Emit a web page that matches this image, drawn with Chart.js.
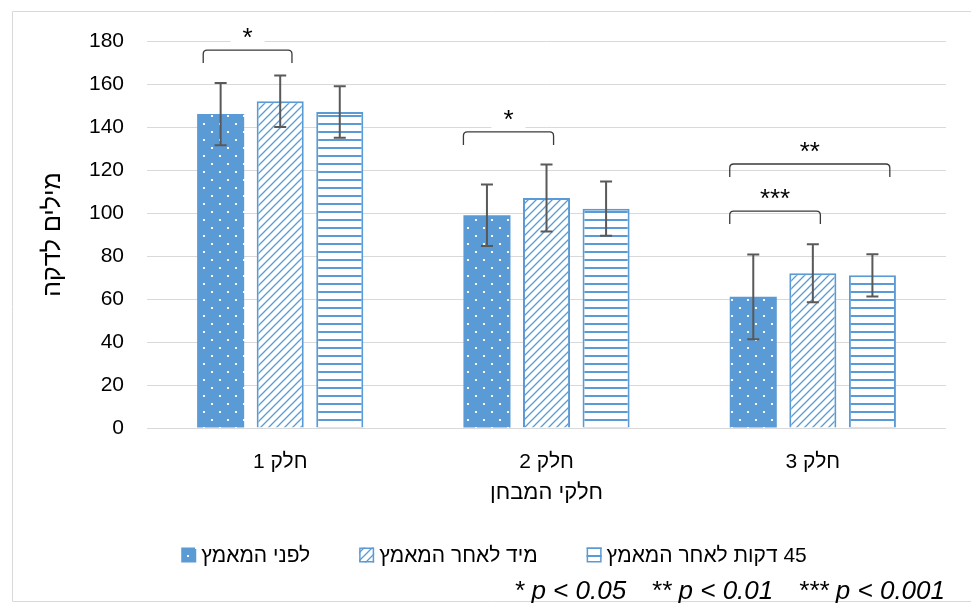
<!DOCTYPE html>
<html>
<head>
<meta charset="utf-8">
<script src="https://cdn.jsdelivr.net/npm/chart.js@4.4.1/dist/chart.umd.min.js"></script>
<style>
  html, body { margin: 0; padding: 0; background: #ffffff; }
  #wrap { position: relative; width: 971px; height: 603px; }
  canvas { display: block; direction: rtl; }
</style>
</head>
<body>
<div id="wrap"><canvas id="chart" width="971" height="603"></canvas></div>
<script>
// ---------------- data ----------------
const categories = ['חלק 1', 'חלק 2', 'חלק 3'];
const seriesNames = ['לפני המאמץ', 'מיד לאחר המאמץ', '45 דקות לאחר המאמץ'];
const beforeValues    = [146, 99, 61];
const immediateValues = [152, 107, 72];
const after45Values   = [147, 102, 71];
const beforeErrors    = [14.5, 14.3, 19.7];
const immediateErrors = [12.0, 15.6, 13.5];
const after45Errors   = [12.0, 12.6, 9.8];
const yTickValues = [0, 20, 40, 60, 80, 100, 120, 140, 160, 180];
const yAxisTitle = 'מילים לדקה';
const xAxisTitle = 'חלקי המבחן';
// significance brackets: category, first bar, second bar, height (axis units), label
const sigCategory = [0, 1, 2, 2];
const sigFrom     = [0, 0, 0, 0];
const sigTo       = [1, 1, 2, 1];
const sigValue    = [175.8, 137.7, 122.8, 100.9];
const sigLabel    = ['*', '*', '**', '***'];
const noteParts = ['* p < 0.05', '** p < 0.01', '*** p < 0.001'];

// ---------------- styles ----------------
const FONT = '"Liberation Sans", Arial, sans-serif';
const BLUE = '#5B9BD5';
const GRID = '#d9d9d9';
// bracket end insets relative to bar width (left end, right end)
const sigLeftInset  = [-0.37, -0.5, -0.5, -0.5];
const sigRightInset = [0.25, 0.15, 0.37, 0.16];

const canvas = document.getElementById('chart');
const mainCtx = canvas.getContext('2d');

function makePattern(kind) {
  const c = document.createElement('canvas');
  const g = c.getContext('2d');
  if (kind === 'dots') {
    c.width = 16; c.height = 16;
    g.fillStyle = BLUE; g.fillRect(0, 0, 16, 16);
    g.fillStyle = '#ffffff';
    g.fillRect(3, 3, 2, 2);
    g.fillRect(11, 11, 2, 2);
  } else if (kind === 'diag') {
    c.width = 8; c.height = 8;
    g.fillStyle = '#ffffff'; g.fillRect(0, 0, 8, 8);
    g.strokeStyle = BLUE; g.lineWidth = 1.3;
    g.beginPath();
    g.moveTo(-2, 10); g.lineTo(10, -2);
    g.moveTo(-2, 2); g.lineTo(2, -2);
    g.moveTo(6, 10); g.lineTo(10, 6);
    g.stroke();
  } else {
    c.width = 8; c.height = 8;
    g.fillStyle = '#ffffff'; g.fillRect(0, 0, 8, 8);
    g.fillStyle = BLUE; g.fillRect(0, 3, 8, 2);
  }
  return mainCtx.createPattern(c, 'repeat');
}
const fills = [makePattern('dots'), makePattern('diag'), makePattern('hlines')];
const errorArrays = [beforeErrors, immediateErrors, after45Errors];

// error bars
const errorBarPlugin = {
  id: 'errorBars',
  afterDatasetsDraw(chart) {
    const ctx = chart.ctx;
    const y = chart.scales.y;
    ctx.save();
    ctx.strokeStyle = '#595959';
    ctx.lineWidth = 2;
    chart.data.datasets.forEach((ds, di) => {
      const meta = chart.getDatasetMeta(di);
      meta.data.forEach((bar, i) => {
        const v = ds.data[i], e = errorArrays[di][i];
        const x = bar.x;
        const yt = y.getPixelForValue(v + e), yb = y.getPixelForValue(v - e);
        ctx.beginPath();
        ctx.moveTo(x, yt); ctx.lineTo(x, yb);
        ctx.moveTo(x - 6, yt); ctx.lineTo(x + 6, yt);
        ctx.moveTo(x - 6, yb); ctx.lineTo(x + 6, yb);
        ctx.stroke();
      });
    });
    ctx.restore();
  }
};

// significance brackets
const bracketPlugin = {
  id: 'brackets',
  afterDatasetsDraw(chart) {
    const ctx = chart.ctx;
    const y = chart.scales.y;
    ctx.save();
    sigLabel.forEach((lab, k) => {
      const b1 = chart.getDatasetMeta(sigFrom[k]).data[sigCategory[k]];
      const b2 = chart.getDatasetMeta(sigTo[k]).data[sigCategory[k]];
      const x1 = b1.x + sigLeftInset[k] * b1.width;
      const x2 = b2.x + sigRightInset[k] * b2.width;
      const yt = y.getPixelForValue(sigValue[k]);
      const drop = 13, r = 4;
      ctx.font = '26px ' + FONT;
      ctx.direction = 'ltr';
      const w = ctx.measureText(lab).width;
      const cx = (x1 + x2) / 2;
      ctx.fillStyle = '#ffffff';
      ctx.fillRect(cx - w / 2 - 12, yt - 36, w + 24, 33);
      ctx.fillStyle = '#000000';
      ctx.textAlign = 'center';
      ctx.textBaseline = 'alphabetic';
      ctx.fillText(lab, cx, yt - 4);
      ctx.strokeStyle = '#3a3a3a';
      ctx.lineWidth = 1.3;
      ctx.beginPath();
      ctx.moveTo(x1, yt + drop);
      ctx.lineTo(x1, yt + r);
      ctx.quadraticCurveTo(x1, yt, x1 + r, yt);
      ctx.lineTo(x2 - r, yt);
      ctx.quadraticCurveTo(x2, yt, x2, yt + r);
      ctx.lineTo(x2, yt + drop);
      ctx.stroke();
    });
    ctx.restore();
  }
};

// legend, note and frame
const extrasPlugin = {
  id: 'extras',
  beforeDraw(chart) {
    const ctx = chart.ctx;
    ctx.save();
    ctx.fillStyle = '#ffffff';
    ctx.fillRect(0, 0, chart.width, chart.height);
    ctx.restore();
  },
  afterDraw(chart) {
    const ctx = chart.ctx;
    ctx.save();
    // frame
    ctx.strokeStyle = GRID; ctx.lineWidth = 1;
    ctx.beginPath();
    ctx.moveTo(chart.width + 5, 11.5); ctx.lineTo(12.5, 11.5); ctx.lineTo(12.5, 601.5); ctx.lineTo(chart.width + 5, 601.5);
    ctx.stroke();
    // legend
    const box = 15, gapBoxText = 5, gapItems = 49, centerX = 494, cy = 555;
    ctx.font = '21px ' + FONT;
    ctx.direction = 'rtl';
    const widths = seriesNames.map(s => ctx.measureText(s).width);
    const total = widths.reduce((a, b) => a + b, 0) + seriesNames.length * (box + gapBoxText) + (seriesNames.length - 1) * gapItems;
    let x = centerX - total / 2;
    seriesNames.forEach((s, i) => {
      ctx.fillStyle = fills[i];
      ctx.fillRect(x, cy - box / 2, box, box);
      if (i > 0) {
        ctx.strokeStyle = BLUE; ctx.lineWidth = 1.5;
        ctx.strokeRect(x + 0.75, cy - box / 2 + 0.75, box - 1.5, box - 1.5);
      }
      x += box + gapBoxText;
      ctx.fillStyle = '#000000';
      ctx.textAlign = 'left';
      ctx.textBaseline = 'middle';
      ctx.fillText(s, x, cy + 1);
      x += widths[i] + gapItems;
    });
    // significance note, right aligned
    ctx.direction = 'ltr';
    ctx.font = 'italic 26px ' + FONT;
    ctx.textAlign = 'right';
    ctx.textBaseline = 'alphabetic';
    ctx.fillStyle = '#000000';
    let xr = 945;
    for (let i = noteParts.length - 1; i >= 0; i--) {
      ctx.fillText(noteParts[i], xr, 599);
      xr -= ctx.measureText(noteParts[i]).width + 25;
    }
    ctx.restore();
  }
};

new Chart(mainCtx, {
  type: 'bar',
  data: {
    labels: categories,
    datasets: [beforeValues, immediateValues, after45Values].map((vals, i) => ({
      label: seriesNames[i],
      data: vals,
      backgroundColor: fills[i],
      borderColor: BLUE,
      borderWidth: i === 0 ? 0 : 2,
      categoryPercentage: 0.671,
      barPercentage: 0.79
    }))
  },
  options: {
    responsive: false,
    animation: false,
    events: [],
    layout: { padding: { left: 0, right: 25, top: 41, bottom: 96.8 } },
    plugins: {
      legend: { display: false },
      tooltip: { enabled: false },
      title: { display: false }
    },
    scales: {
      x: {
        grid: { display: false, drawTicks: false },
        border: { display: false },
        ticks: { color: '#000000', font: { family: FONT, size: 21 }, padding: 21.4 },
        title: { display: true, text: xAxisTitle, color: '#000000', font: { family: FONT, size: 22 }, padding: { top: -16.2, bottom: 0 } }
      },
      y: {
        min: 0, max: 180,
        afterBuildTicks(scale) { scale.ticks = yTickValues.map(v => ({ value: v })); },
        grid: { color: GRID, lineWidth: 1, drawTicks: false },
        border: { display: false },
        ticks: { color: '#000000', font: { family: FONT, size: 21 }, padding: 23 },
        title: { display: true, text: yAxisTitle, color: '#000000', font: { family: FONT, size: 25 }, padding: { top: 38, bottom: -2 } }
      }
    }
  },
  plugins: [extrasPlugin, errorBarPlugin, bracketPlugin]
});
</script>
</body>
</html>
